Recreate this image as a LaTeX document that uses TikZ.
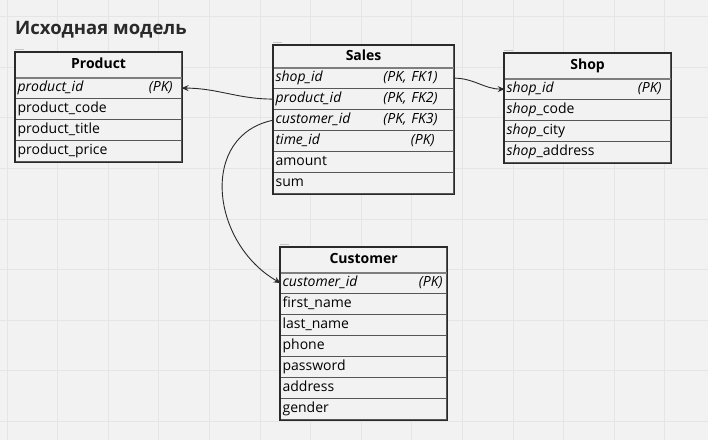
\documentclass[tikz,border=0pt]{standalone}
\usepackage{fontspec}
\setmainfont{Open Sans}
\usepackage{tikz}
\usetikzlibrary{matrix,arrows.meta,positioning}

\definecolor{paper}{HTML}{F2F2F2}
\definecolor{gridc}{HTML}{E5E5E5}
\definecolor{ink}{HTML}{2A2A2A}
\definecolor{sepc}{HTML}{575757}
\definecolor{hsepc}{HTML}{7E7E7E}
\definecolor{tagc}{HTML}{C6C6C6}

% key marker on the right of a field
\newcommand{\pkey}[2]{\hfill\textit{#1}\hspace*{#2}}

\tikzset{
  table/.style={matrix of nodes, inner sep=0pt, anchor=north west, row sep=-0.8pt, nodes={field}},
  field/.style={draw=sepc, line width=0.8pt, fill=paper, outer sep=0pt, minimum height=21pt,
    inner xsep=2pt, inner ysep=0pt, text height=10.5pt, text depth=3.5pt,
    align=left, font=\fontsize{14}{16}\selectfont},
  head/.style={font=\fontsize{14}{16}\selectfont\bfseries, align=center, minimum height=25pt},
  frame/.style={draw=ink, line width=1.3pt},
  hsep/.style={draw=hsepc, line width=2pt},
  tagline/.style={draw=tagc, line width=0.8pt},
  gridline/.style={draw=gridc, line width=0.8pt},
  link/.style={draw=ink, line width=0.9pt, -{Stealth[length=7pt,width=6pt,inset=2.5pt]}},
  title/.style={font=\fontsize{18.5}{20}\selectfont\bfseries, text=ink, inner sep=0pt},
}

\begin{document}
\begin{tikzpicture}[x=1pt, y=1pt]
  % background and board grid
  \fill[paper] (0,0) rectangle (708,-440);
  \useasboundingbox (0,0) rectangle (708,-440);
  \foreach \i in {0,...,13}
    \draw[gridline] ({7+50.6*\i},0) -- ++(0,-440);
  \foreach \j in {0,...,8}
    \draw[gridline] (0,{-16.6-50.6*\j}) -- ++(708,0);

  \node[title, anchor=base west] (title) at (15,-34) {Исходная модель};

  % tables
  \matrix (product) [table, nodes={text width=162pt}] at (15,-52)
  {
    |[head]| Product \\
    \textit{product\_id}\pkey{(PK)}{7pt} \\
    product\_code \\
    product\_title \\
    product\_price \\
  };
  \matrix (sales) [table, nodes={text width=176pt}] at (273,-45)
  {
    |[head, minimum height=22pt]| Sales \\
    \textit{shop\_id}\pkey{(PK, FK1)}{14pt} \\
    \textit{product\_id}\pkey{(PK, FK2)}{14pt} \\
    \textit{customer\_id}\pkey{(PK, FK3)}{14pt} \\
    \textit{time\_id}\pkey{(PK)}{17pt} \\
    amount \\
    sum \\
  };
  \matrix (shop) [table, nodes={text width=162pt}] at (504,-53)
  {
    |[head]| Shop \\
    \textit{shop\_id}\pkey{(PK)}{7pt} \\
    \textit{shop}\_code \\
    \textit{shop}\_city \\
    \textit{shop}\_address \\
  };
  \matrix (customer) [table, nodes={text width=162pt}] at (280,-247)
  {
    |[head]| Customer \\
    \textit{customer\_id}\pkey{(PK)}{2pt} \\
    first\_name \\
    last\_name \\
    phone \\
    password \\
    address \\
    gender \\
  };

  % frames, header rules and frame tags
  \foreach \t in {product,sales,shop,customer} {
    \draw[frame] (\t.north west) rectangle (\t.south east);
    \draw[hsep] (\t-1-1.south west) -- (\t-1-1.south east);
    \draw[tagline] ([yshift=3pt]\t.north west) -- ++(9,0);
  }

  % relations
  \draw[link] (sales-3-1.west) to[out=180, in=0] (product-2-1.east);
  \draw[link] (sales-2-1.east) to[out=0, in=180] (shop-2-1.west);
  \draw[link] (sales-4-1.west) .. controls +(-75,-15) and +(-70,40) .. (customer-2-1.west);
\end{tikzpicture}
\end{document}
